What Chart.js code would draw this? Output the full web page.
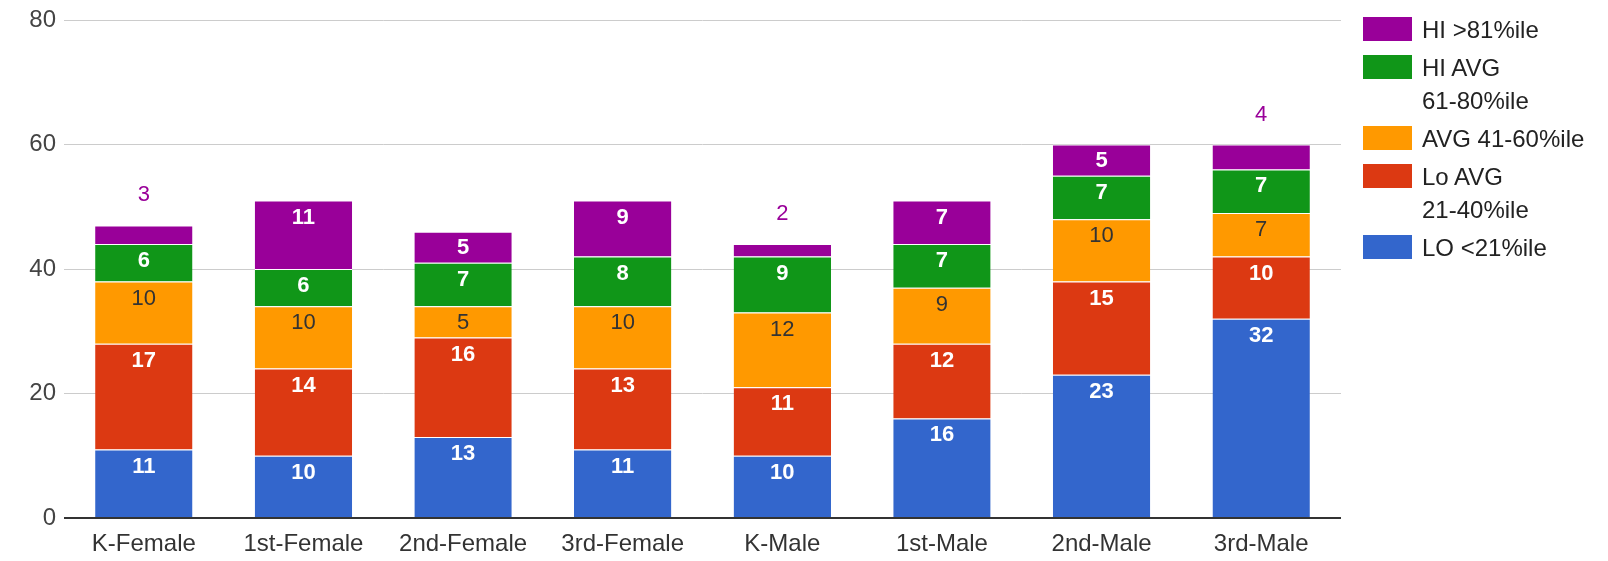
<!DOCTYPE html>
<html>
<head>
<meta charset="utf-8">
<script src="https://cdn.jsdelivr.net/npm/chart.js@4"></script>
<style>
  html, body { margin: 0; padding: 0; background: #fff; }
  #wrap { position: relative; width: 1608px; height: 561px; }
  #legend { position: absolute; left: 1363px; top: 13px; font-family: "Liberation Sans", Arial, sans-serif; font-size: 24px; color: #222; }
  .item { position: relative; padding-left: 59px; margin-bottom: 5px; line-height: 33px; }
  .item .box { position: absolute; left: 0; top: 4px; width: 49px; height: 24px; }
</style>
</head>
<body>
<div id="wrap">
  <canvas id="scoreChart" width="1608" height="561"></canvas>
  <div id="legend"></div>
</div>
<script>
var categories = ['K-Female', '1st-Female', '2nd-Female', '3rd-Female', 'K-Male', '1st-Male', '2nd-Male', '3rd-Male'];
var loValues    = [11, 10, 13, 11, 10, 16, 23, 32];
var loAvgValues = [17, 14, 16, 13, 11, 12, 15, 10];
var avgValues   = [10, 10, 5, 10, 12, 9, 10, 7];
var hiAvgValues = [6, 6, 7, 8, 9, 7, 7, 7];
var hiValues    = [3, 11, 5, 9, 2, 7, 5, 4];
var seriesNames = ['LO <21%ile', 'Lo AVG\n21-40%ile', 'AVG 41-60%ile', 'HI AVG\n61-80%ile', 'HI >81%ile'];
var seriesColors = ['#3366cc', '#dc3912', '#ff9900', '#109618', '#990099'];
var yTicks = [0, 20, 40, 60, 80];

var fontFamily = '"Liberation Sans", Arial, sans-serif';
var allValues = [loValues, loAvgValues, avgValues, hiAvgValues, hiValues];

// legend (top series first)
var legendEl = document.getElementById('legend');
for (var i = seriesNames.length - 1; i >= 0; i--) {
    var div = document.createElement('div');
    div.className = 'item';
    var box = document.createElement('span');
    box.className = 'box';
    box.style.background = seriesColors[i];
    div.appendChild(box);
    seriesNames[i].split('\n').forEach(function (line, k) {
        if (k > 0) div.appendChild(document.createElement('br'));
        div.appendChild(document.createTextNode(line));
    });
    legendEl.appendChild(div);
}

var segmentLabels = {
    id: 'segmentLabels',
    afterDatasetsDraw: function (chart) {
        var ctx = chart.ctx;
        ctx.save();
        ctx.textAlign = 'center';
        ctx.textBaseline = 'middle';
        chart.data.datasets.forEach(function (ds, di) {
            var meta = chart.getDatasetMeta(di);
            meta.data.forEach(function (bar, idx) {
                var top = bar.y, h = bar.base - bar.y;
                var text = String(ds.data[idx]);
                if (h < 28) {
                    ctx.font = '22px ' + fontFamily;
                    ctx.fillStyle = seriesColors[di];
                    ctx.fillText(text, bar.x, top - 30);
                    return;
                }
                if (di === 2) {
                    ctx.font = '22px ' + fontFamily;
                    ctx.fillStyle = '#333';
                } else {
                    ctx.font = 'bold 22px ' + fontFamily;
                    ctx.fillStyle = '#fff';
                }
                ctx.fillText(text, bar.x, top + Math.min(16, h / 2) + 1);
            });
        });
        ctx.restore();
    }
};

var ctx = document.getElementById('scoreChart').getContext('2d');
var chart = new Chart(ctx, {
    type: 'bar',
    data: {
        labels: categories,
        datasets: allValues.map(function (vals, i) {
            return {
                label: seriesNames[i],
                data: vals,
                backgroundColor: seriesColors[i],
                borderColor: '#fff',
                borderWidth: { top: 1, bottom: 0, left: 0, right: 0 },
                borderSkipped: false,
                barPercentage: 0.61,
                categoryPercentage: 1
            };
        })
    },
    options: {
        responsive: false,
        animation: false,
        layout: { padding: { top: 15, right: 267, bottom: 0, left: 0 } },
        plugins: {
            legend: { display: false },
            tooltip: { enabled: false }
        },
        scales: {
            x: {
                stacked: true,
                grid: { display: false, drawTicks: false },
                border: { display: false },
                ticks: { color: '#333', font: { family: fontFamily, size: 24 }, padding: 12, maxRotation: 0 },
                afterFit: function (scale) { scale.height = 43; }
            },
            y: {
                stacked: true,
                min: 0,
                max: 80,
                afterBuildTicks: function (scale) {
                    scale.ticks = yTicks.map(function (v) { return { value: v }; });
                },
                grid: {
                    drawTicks: false,
                    color: function (c) { return c.tick && c.tick.value === 0 ? '#333' : '#ccc'; },
                    lineWidth: function (c) { return c.tick && c.tick.value === 0 ? 2 : 1; }
                },
                border: { display: false },
                ticks: { color: '#444', font: { family: fontFamily, size: 24, lineHeight: 1 }, padding: 8 },
                afterFit: function (scale) { scale.width = 64; }
            }
        }
    },
    plugins: [segmentLabels]
});
</script>
</body>
</html>
